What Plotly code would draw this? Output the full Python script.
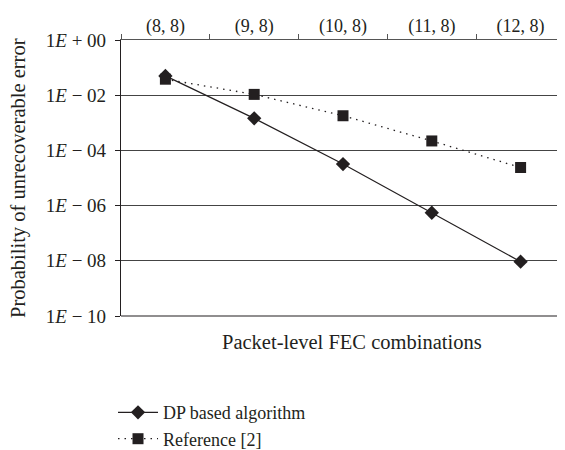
import plotly.graph_objects as go

categories = ["(8, 8)", "(9, 8)", "(10, 8)", "(11, 8)", "(12, 8)"]
dp_values = [5.0e-2, 1.45e-3, 3.2e-5, 5.5e-7, 9.3e-9]
ref_values = [3.8e-2, 1.07e-2, 1.8e-3, 2.2e-4, 2.4e-5]
y_tick_vals = [1e0, 1e-2, 1e-4, 1e-6, 1e-8, 1e-10]
y_tick_text = ["1<i>E</i> + 00", "1<i>E</i> − 02", "1<i>E</i> − 04",
               "1<i>E</i> − 06", "1<i>E</i> − 08", "1<i>E</i> − 10"]

FONT = "Liberation Serif"
INK = "#231f20"
FS = 18
TITLE_FS = 20.5

fig = go.Figure()
fig.add_trace(go.Scatter(
    x=categories, y=dp_values, name="DP based algorithm",
    mode="lines+markers",
    line=dict(color=INK, width=1.2),
    marker=dict(symbol="diamond", size=11, color=INK),
))
fig.add_trace(go.Scatter(
    x=categories, y=ref_values, name="Reference [2]",
    mode="lines+markers",
    line=dict(color=INK, width=1.3, dash="1.5px,5px"),
    marker=dict(symbol="square", size=11, color=INK),
))

fig.update_layout(
    width=557, height=450,
    margin=dict(l=113, r=0, t=32, b=142),
    paper_bgcolor="white", plot_bgcolor="white",
    font=dict(family=FONT, size=FS, color=INK),
    showlegend=True,
    legend=dict(x=-0.018, y=-0.283, xanchor="left", yanchor="top",
                font=dict(family=FONT, size=FS, color=INK),
                tracegroupgap=0, itemwidth=40, bgcolor="rgba(0,0,0,0)"),
    xaxis=dict(
        side="top", type="category", range=[-0.5, 4.5],
        showline=True, linecolor="#555", linewidth=1.2,
        ticks="outside", ticklen=5, tickcolor="#555", tickson="boundaries",
        showgrid=False, zeroline=False,
        tickfont=dict(family=FONT, size=FS, color=INK),
    ),
    yaxis=dict(
        type="log", range=[-10, 0],
        tickvals=y_tick_vals, ticktext=y_tick_text,
        showline=True, linecolor=INK, linewidth=1.2,
        ticks="outside", ticklen=5, tickcolor=INK,
        ticklabelstandoff=5,
        showgrid=True, gridcolor="#444", gridwidth=1,
        zeroline=False,
        tickfont=dict(family=FONT, size=19, color=INK),
    ),
    annotations=[
        dict(text="Packet-level FEC combinations", xref="paper", yref="paper",
             x=0.52, y=-0.094, xanchor="center", yanchor="middle",
             showarrow=False, font=dict(family=FONT, size=TITLE_FS, color=INK)),
        dict(text="Probability of unrecoverable error", xref="paper", yref="paper",
             x=-0.232, y=0.5, xanchor="center", yanchor="middle", textangle=-90,
             showarrow=False, font=dict(family=FONT, size=TITLE_FS, color=INK)),
    ],
)
# bottom boundary line at 1E-10
fig.add_shape(type="line", xref="paper", yref="paper", x0=0, x1=1, y0=0, y1=0,
              line=dict(color=INK, width=1.2))

fig.write_html("out.html")
